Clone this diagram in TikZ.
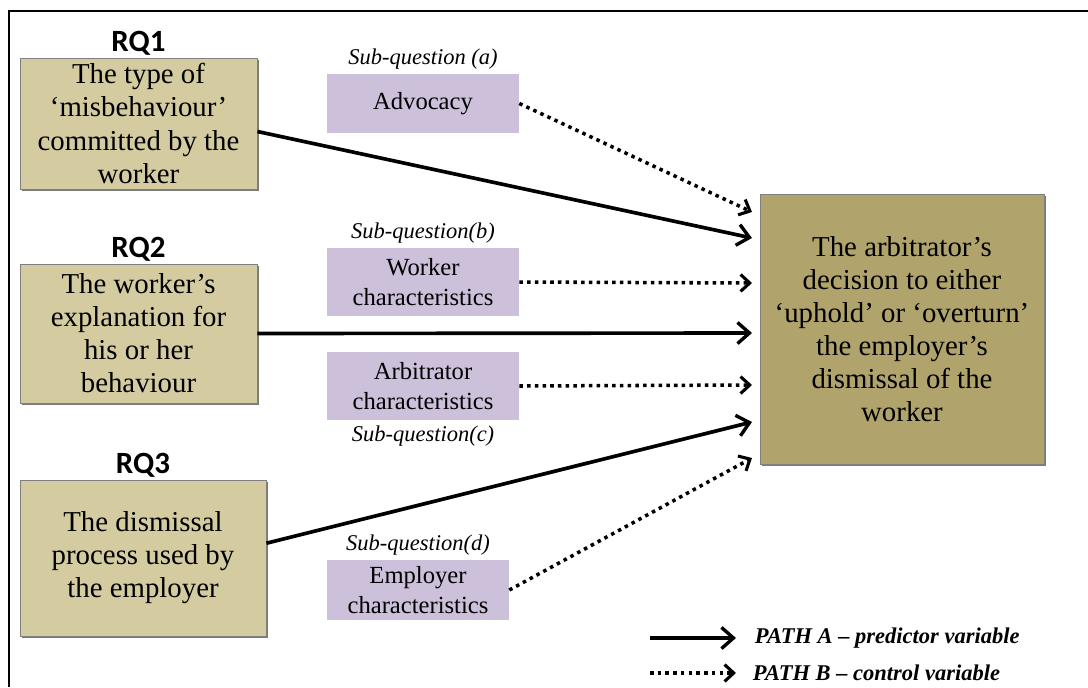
\documentclass[tikz,border=0pt]{standalone}
\usepackage{fontspec}
\setmainfont{Liberation Serif}
\newfontfamily\rqfont{Carlito}
\usetikzlibrary{arrows.meta,positioning,calc,shadows}

\definecolor{rqtan}{RGB}{212,204,160}
\definecolor{dectan}{RGB}{176,164,108}
\definecolor{sublav}{RGB}{204,192,218}

\begin{document}
\begin{tikzpicture}[x=0.025cm,y=-0.025cm]
        \tikzstyle{rqbox}=[rectangle,fill=rqtan,draw=black!50,line width=0.6pt,drop shadow={shadow xshift=1.2pt,shadow yshift=-1.2pt,fill=black!65,opacity=0.8},align=center,inner sep=0pt,font=\fontsize{20.5}{23.5}\selectfont]
        \tikzstyle{subbox}=[rectangle,fill=sublav,align=center,inner sep=0pt,font=\fontsize{17.5}{21}\selectfont]
        \tikzstyle{rqlabel}=[font=\rqfont\bfseries\fontsize{22}{26}\selectfont,inner sep=1pt]
        \tikzstyle{sublabel}=[font=\itshape\fontsize{16}{19}\selectfont,inner sep=1pt]
        \tikzstyle{patha}=[line width=2.6pt,-{Straight Barb[length=8.5pt,width=15pt,line width=2.4pt]}]
        \tikzstyle{pathb}=[line width=2.5pt,dash pattern=on 2.5pt off 3pt,-{Straight Barb[length=6.5pt,width=12pt,line width=2.2pt]}]
        \useasboundingbox (0,0) rectangle (1088,687);

        %%% frame
        \draw[line width=1.6pt] (9,687) -- (9,11) -- (1088,11);

        %%% research questions
        \node[rqbox,minimum width=5.925cm,minimum height=3.275cm] (q1) at (138.5,123.5) {The type of\\‘misbehaviour’\\committed by the\\worker};
        \node[rqbox,minimum width=5.925cm,minimum height=3.475cm] (q2) at (138.5,333.5) {The worker’s\\explanation for\\his or her\\behaviour};
        \node[rqbox,minimum width=6.15cm,minimum height=3.9cm] (q3) at (143,558) {The dismissal\\process used by\\the employer};
        \node[rqlabel,above=0pt of q1] (rq1) {RQ1};
        \node[rqlabel,above=0pt of q2] (rq2) {RQ2};
        \node[rqlabel,above=0pt of q3] (rq3) {RQ3};

        %%% sub-questions
        \node[subbox,minimum width=4.8cm,minimum height=1.475cm] (adv) at (423,103.5) {Advocacy};
        \node[subbox,minimum width=4.8cm,minimum height=1.7cm] (wrk) at (423,282) {Worker\\characteristics};
        \node[subbox,minimum width=4.8cm,minimum height=1.7cm] (arb) at (423,386) {Arbitrator\\characteristics};
        \node[subbox,minimum width=4.55cm,minimum height=1.5cm] (emp) at (418,590) {Employer\\characteristics};
        \node[sublabel,above=2pt of adv] (sqa) {Sub-question (a)};
        \node[sublabel,above=2pt of wrk] (sqb) {Sub-question(b)};
        \node[sublabel,below=3pt of arb] (sqc) {Sub-question(c)};
        \node[sublabel,above=2pt of emp] (sqd) {Sub-question(d)};

        %%% outcome
        \node[rqbox,fill=dectan,minimum width=7.1cm,minimum height=6.75cm] (dec) at (902,329) {The arbitrator’s\\decision to either\\‘uphold’ or ‘overturn’\\the employer’s\\dismissal of the\\worker};

        \coordinate (ta) at (752,212);
        \coordinate (t1) at (752,238);
        \coordinate (tb) at (752,283);
        \coordinate (t2) at (752,333);
        \coordinate (tc) at (752,385);
        \coordinate (t3) at (752,422);
        \coordinate (td) at (752,458);

        \draw[patha] ([yshift=-0.2cm]q1.east) -- (t1);
        \draw[patha] (q2.east) -- (t2);
        \draw[patha] ([yshift=0.37cm]q3.east) -- (t3);
        \draw[pathb] (adv.east) -- (ta);
        \draw[pathb] (wrk.east) -- (tb);
        \draw[pathb] (arb.east) -- (tc);
        \draw[pathb] (emp.east) -- (td);

        %%% legend
        \node[anchor=west,font=\bfseries\itshape\fontsize{16}{19}\selectfont] (pA) at (750,638) {PATH A -- predictor variable};
        \node[anchor=west,font=\bfseries\itshape\fontsize{16}{19}\selectfont] (pB) at (748,673) {PATH B -- control variable};
        \coordinate (la) at (650,638);
        \coordinate (lb) at (650,673);
        \draw[patha] (la) -- ([xshift=-0.35cm]pA.west);
        \draw[pathb] (lb) -- ([xshift=-0.3cm]pB.west);
\end{tikzpicture}
\end{document}
